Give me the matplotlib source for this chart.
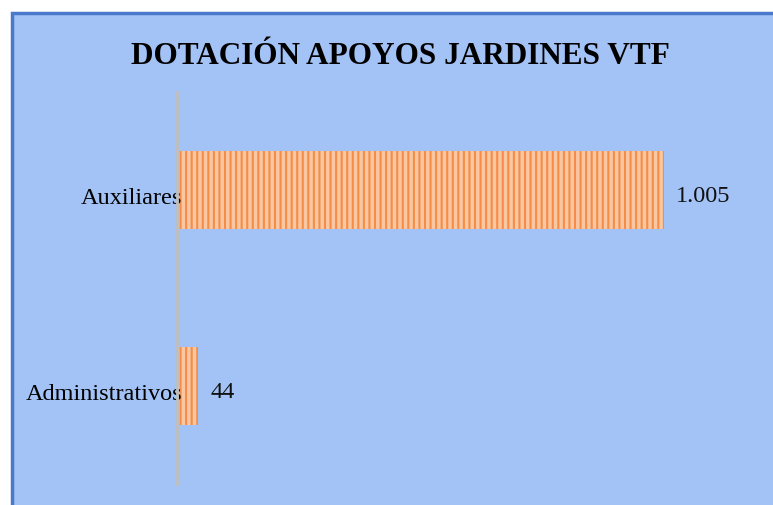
import matplotlib
matplotlib.use("Agg")
from matplotlib import pyplot as plt
from matplotlib.patches import Rectangle
import matplotlib.transforms as mtransforms

# Data
categories = ["Administrativos", "Auxiliares"]
values = [44, 1005]
value_labels = ["44", "1.005"]

plt.rcParams["font.family"] = ["Liberation Serif", "DejaVu Serif"]
plt.rcParams["hatch.linewidth"] = 1.5

fig = plt.figure(figsize=(7.73, 5.06), dpi=100)
fig.patch.set_facecolor("white")

# Blue chart area with border
W, H = 773.0, 506.0
bg = Rectangle((12 / W, -0.01), 1.0, 1 - 14 / H + 0.01, transform=fig.transFigure,
               facecolor="#a3c2f5", edgecolor="#4a78cc", linewidth=2.5, zorder=-5)
fig.patches.append(bg)

ax = fig.add_axes([177 / W, (H - 485) / H, (W - 177) / W, 392 / H])
ax.set_facecolor("none")

bars = ax.barh(categories, values, height=0.4, color="#fac7a2",
               edgecolor="#f38d47", hatch="|||", linewidth=0)

for bar, lab in zip(bars, value_labels):
    ax.text(bar.get_width() + 25, bar.get_y() + bar.get_height() / 2 - 0.03, lab,
            va="center", ha="left", fontsize=17.5, color="#111111")

ax.set_xlim(0, (W - 177) / 0.4846)
ax.set_ylim(-0.5, 1.5)
ax.set_xticks([])
ax.tick_params(axis="y", length=0, labelsize=17.5, pad=-4)
# labels sit a little below the bar centre in the original
shift = mtransforms.ScaledTranslation(0, -5 / 100, fig.dpi_scale_trans)
for lbl in ax.get_yticklabels():
    lbl.set_transform(lbl.get_transform() + shift)
for s in ["top", "right", "bottom"]:
    ax.spines[s].set_visible(False)
ax.spines["left"].set_color("#bfbfbf")
ax.spines["left"].set_linewidth(2)

fig.text((133 + 668) / 2 / W, 1 - 56 / H, "DOTACIÓN APOYOS JARDINES VTF",
         ha="center", va="center", fontsize=22.5, fontweight="bold", color="black")

plt.savefig("out.png", dpi=100)
